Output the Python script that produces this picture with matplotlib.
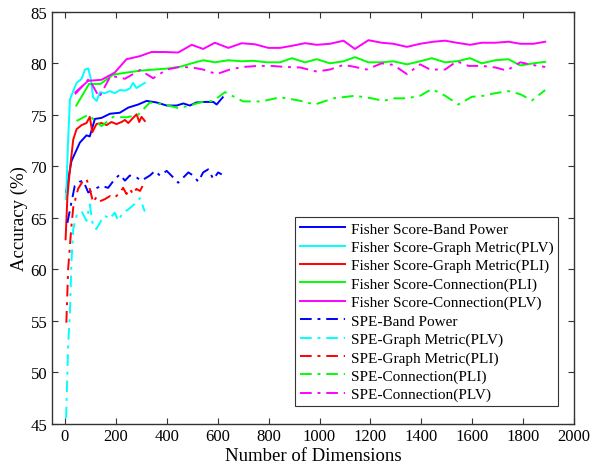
import matplotlib.pyplot as plt

plt.rcParams['font.family'] = ['Liberation Serif', 'DejaVu Serif']

# Fisher Score 曲线数据
fs_bp_x = [5, 26, 59, 85, 98, 118, 144, 177, 216, 249, 288, 321, 360, 400, 439, 465, 491, 517, 550, 583, 596, 620]
fs_bp_y = [67.5, 70.5, 72.3, 73.0, 72.9, 74.6, 74.7, 75.1, 75.2, 75.7, 76.0, 76.35, 76.2, 75.9, 75.9, 76.1, 75.9, 76.2, 76.25, 76.25, 76.0, 76.7]

fs_gplv_x = [5, 12, 20, 33, 46, 66, 79, 92, 102, 111, 125, 138, 157, 177, 196, 216, 236, 255, 268, 281, 301, 314]
fs_gplv_y = [66.8, 72.0, 76.5, 77.3, 78.1, 78.5, 79.4, 79.5, 78.5, 76.7, 76.35, 77.2, 77.1, 77.3, 77.1, 77.4, 77.35, 77.55, 78.1, 77.6, 77.9, 78.1]

fs_gpli_x = [3, 10, 20, 33, 46, 66, 85, 98, 108, 124, 144, 164, 183, 203, 223, 236, 249, 268, 282, 292, 301, 314]
fs_gpli_y = [62.9, 67.0, 69.7, 72.6, 73.6, 74.0, 74.2, 74.8, 73.3, 74.1, 74.2, 74.0, 74.3, 74.1, 74.3, 74.5, 74.2, 74.7, 75.05, 74.3, 74.8, 74.4]

fs_cpli_x = [45, 95, 140, 190, 242, 301, 354, 406, 458, 498, 543, 589, 642, 694, 740, 793, 845, 891, 943, 989,
             1041, 1094, 1139, 1192, 1244, 1290, 1343, 1395, 1441, 1493, 1539, 1591, 1637, 1690, 1742, 1788, 1840, 1886]
fs_cpli_y = [75.9, 78.0, 78.0, 78.9, 79.1, 79.3, 79.4, 79.5, 79.7, 80.0, 80.3, 80.1, 80.3, 80.2, 80.25, 80.1, 80.1, 80.5, 80.1, 80.4,
             80.0, 80.2, 80.6, 80.1, 80.1, 80.2, 79.9, 80.2, 80.5, 80.1, 80.2, 80.5, 80.0, 80.3, 80.4, 79.8, 80.0, 80.15]

fs_cplv_x = [42, 92, 144, 196, 242, 295, 340, 393, 445, 498, 543, 589, 642, 694, 747, 799, 845, 891, 943, 989,
             1041, 1094, 1139, 1192, 1244, 1290, 1343, 1395, 1447, 1493, 1539, 1591, 1637, 1690, 1742, 1788, 1840, 1886]
fs_cplv_y = [77.2, 78.3, 78.4, 79.1, 80.4, 80.7, 81.1, 81.1, 81.05, 81.8, 81.4, 82.0, 81.5, 81.95, 81.85, 81.5, 81.5, 81.7, 81.96, 81.8,
             81.9, 82.2, 81.4, 82.25, 82.0, 81.9, 81.6, 81.9, 82.1, 82.2, 82.0, 81.8, 82.0, 82.0, 82.1, 81.9, 81.9, 82.1]

# SPE 曲线数据
spe_bp_x = [10, 26, 39, 59, 72, 92, 118, 144, 170, 196, 216, 236, 255, 282, 301, 334, 354, 373, 400, 426,
            445, 465, 485, 504, 524, 543, 563, 583, 602, 616]
spe_bp_y = [64.5, 66.5, 68.1, 68.5, 68.6, 67.45, 67.8, 68.1, 67.9, 68.75, 69.2, 68.6, 69.1, 68.9, 68.6, 69.1, 69.55, 69.1, 69.55, 68.9,
            68.4, 68.9, 69.4, 69.1, 68.5, 69.4, 69.7, 68.75, 69.4, 69.2]

spe_gplv_x = [5, 13, 20, 26, 33, 46, 66, 85, 98, 111, 124, 144, 157, 177, 196, 209, 229, 249, 268, 295, 314]
spe_gplv_y = [45.5, 52.6, 55.8, 60.7, 63.9, 65.2, 65.6, 64.7, 66.3, 64.1, 63.9, 64.8, 65.2, 64.9, 65.5, 64.7, 65.5, 65.8, 66.2, 66.9, 65.6]

spe_gpli_x = [6, 13, 20, 26, 33, 52, 72, 85, 98, 111, 124, 138, 157, 177, 196, 216, 229, 242, 255, 268, 281, 295, 308]
spe_gpli_y = [54.8, 60.0, 62.3, 64.2, 66.0, 67.8, 68.6, 68.75, 67.8, 66.5, 67.0, 66.6, 66.8, 67.1, 66.95, 67.45, 67.9, 67.3, 67.8, 67.3, 67.8, 67.6, 68.2]

spe_cpli_x = [46, 92, 144, 190, 242, 288, 334, 393, 445, 491, 537, 583, 629, 700, 773, 845, 917, 982, 1054, 1139,
              1205, 1251, 1290, 1343, 1395, 1441, 1493, 1545, 1598, 1644, 1690, 1742, 1788, 1834, 1886]
spe_cpli_y = [74.4, 75.0, 73.9, 74.8, 74.75, 75.0, 76.2, 76.0, 75.65, 75.9, 76.25, 76.35, 77.2, 76.3, 76.3, 76.7, 76.4, 76.0, 76.6, 76.85,
              76.6, 76.35, 76.6, 76.6, 76.85, 77.5, 76.85, 76.0, 76.75, 76.85, 77.1, 77.3, 77.0, 76.4, 77.4]

spe_cplv_x = [40, 95, 135, 180, 236, 295, 347, 400, 452, 498, 543, 596, 648, 700, 760, 812, 864, 923, 989, 1041,
              1094, 1139, 1185, 1244, 1290, 1343, 1395, 1434, 1493, 1539, 1585, 1637, 1690, 1735, 1788, 1834, 1886]
spe_cplv_y = [77.0, 78.5, 76.7, 78.8, 78.5, 79.35, 78.55, 79.4, 79.65, 79.6, 79.4, 78.95, 79.4, 79.65, 79.75, 79.75, 79.65, 79.6, 79.2, 79.4,
              79.85, 79.65, 79.4, 80.0, 79.85, 78.95, 79.9, 79.4, 79.4, 80.2, 79.75, 79.75, 79.6, 79.3, 80.1, 79.85, 79.65]

labels = ['Fisher Score-Band Power', 'Fisher Score-Graph Metric(PLV)', 'Fisher Score-Graph Metric(PLI)',
          'Fisher Score-Connection(PLI)', 'Fisher Score-Connection(PLV)',
          'SPE-Band Power', 'SPE-Graph Metric(PLV)', 'SPE-Graph Metric(PLI)',
          'SPE-Connection(PLI)', 'SPE-Connection(PLV)']
colors = ['#0000ff', '#00ffff', '#ff0000', '#00ff00', '#ff00ff']

fs_data = [(fs_bp_x, fs_bp_y), (fs_gplv_x, fs_gplv_y), (fs_gpli_x, fs_gpli_y), (fs_cpli_x, fs_cpli_y), (fs_cplv_x, fs_cplv_y)]
spe_data = [(spe_bp_x, spe_bp_y), (spe_gplv_x, spe_gplv_y), (spe_gpli_x, spe_gpli_y), (spe_cpli_x, spe_cpli_y), (spe_cplv_x, spe_cplv_y)]

fig = plt.figure(figsize=(5.92, 4.77), dpi=100)
ax = fig.add_axes([0.088, 0.110, 0.882, 0.863])

dashdot = (0, (6, 3, 1.5, 3))
for i, (x, y) in enumerate(fs_data):
    ax.plot(x, y, color=colors[i], linewidth=1.4, label=labels[i])
for i, (x, y) in enumerate(spe_data):
    ax.plot(x, y, color=colors[i], linewidth=1.4, linestyle=dashdot, label=labels[i + 5])

ax.set_xlim(-50, 2000)
ax.set_ylim(45, 85)
ax.set_xticks(range(0, 2001, 200))
ax.set_yticks(range(45, 86, 5))
ax.tick_params(direction='in', top=True, right=True, labelsize=12, length=4, color='#333333')
for s in ax.spines.values():
    s.set_color('#333333')
    s.set_linewidth(1.0)

ax.set_xlabel('Number of Dimensions', fontsize=13.5, labelpad=2)
ax.set_ylabel('Accuracy (%)', fontsize=13.5, labelpad=2)

leg = ax.legend(loc='lower right', bbox_to_anchor=(0.969, 0.0425), borderaxespad=0,
                fontsize=11, fancybox=False, edgecolor='#333333', framealpha=1,
                handlelength=3.0, handletextpad=0.35, labelspacing=0.3, borderpad=0.3)
leg.get_frame().set_linewidth(0.8)

plt.savefig('out.png', dpi=100)
